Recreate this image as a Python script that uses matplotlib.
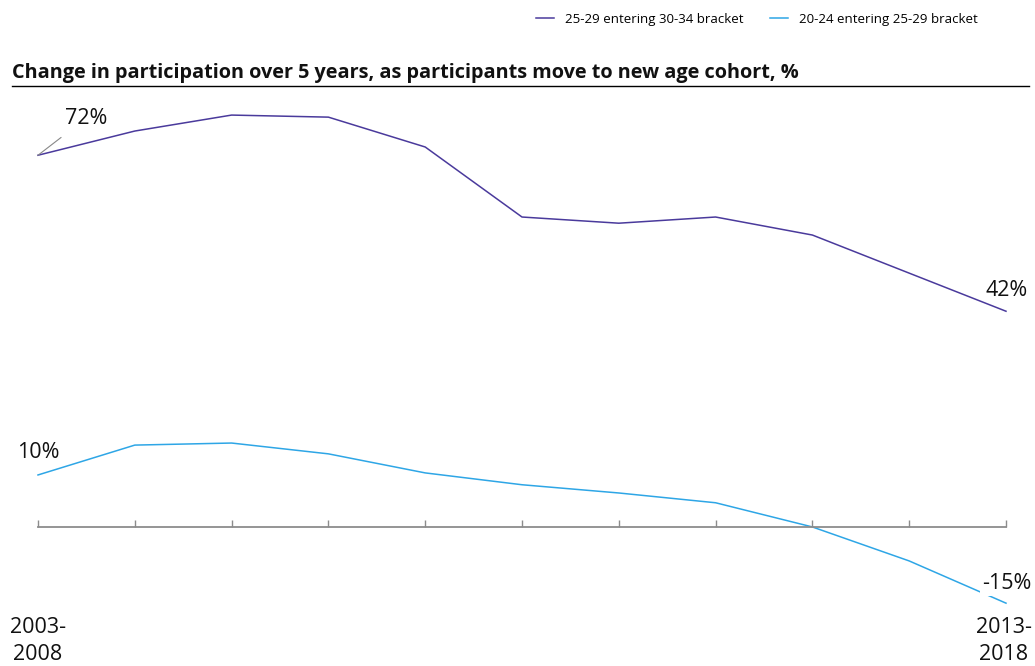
import matplotlib
matplotlib.use("Agg")
import matplotlib.pyplot as plt
from matplotlib.lines import Line2D

periods = ["2003-\n2008", "2004-\n2009", "2005-\n2010", "2006-\n2011", "2007-\n2012", "2008-\n2013",
           "2009-\n2014", "2010-\n2015", "2011-\n2016", "2012-\n2017", "2013-\n2018"]
s1_name = "25-29 entering 30-34 bracket"
s2_name = "20-24 entering 25-29 bracket"
s1 = [72.2, 76.9, 80.0, 79.6, 73.8, 60.2, 59.0, 60.2, 56.7, 49.3, 41.9]
s2 = [10.1, 15.9, 16.3, 14.2, 10.5, 8.2, 6.6, 4.7, 0.0, -6.6, -14.8]
c1 = "#4a3a9c"
c2 = "#2ea6e6"
W, H = 1035, 666
font = "Open Sans"

fig = plt.figure(figsize=(W / 100, H / 100), dpi=100)
ax = fig.add_axes([38 / W, 1 - 615 / H, (1006 - 38) / W, 520 / H])
x = list(range(len(periods)))
ax.plot(x, s1, color=c1, lw=1.1, clip_on=False)
ax.plot(x, s2, color=c2, lw=1.1, clip_on=False)
ax.set_xlim(0, len(periods) - 1)
ax.set_ylim(-17.1, 83.9)
for sp in ["top", "right", "left"]:
    ax.spines[sp].set_visible(False)
ax.spines["bottom"].set_position(("data", 0))
ax.spines["bottom"].set_color("#8c8c8c")
ax.spines["bottom"].set_linewidth(1.3)
ax.set_xticks(x)
ax.set_xticklabels([])
ax.tick_params(axis="x", direction="in", length=5, width=1, color="#8c8c8c")
ax.set_yticks([])

lab = dict(fontsize=15.5, family=font, color="#111111")
ax.annotate("72%", xy=(0, s1[0]), xytext=(48, 37), textcoords="offset pixels",
            ha="center", va="center",
            arrowprops=dict(arrowstyle="-", color="#888888", lw=0.8, shrinkA=7, shrinkB=0), **lab)
ax.annotate("42%", xy=(10, s1[-1]), xytext=(1, 21), textcoords="offset pixels",
            ha="center", va="center", **lab)
ax.annotate("10%", xy=(0, s2[0]), xytext=(0, 22), textcoords="offset pixels",
            ha="center", va="center", **lab)
ax.annotate("-15%", xy=(10, s2[-1]), xytext=(1, 20), textcoords="offset pixels",
            ha="center", va="center",
            bbox=dict(boxstyle="square,pad=0.1", fc="white", ec="none"), **lab)

fig.text(38 / W, 1 - 641 / H, periods[0], ha="center", va="center", linespacing=1.4, **lab)
fig.text(1004 / W, 1 - 641 / H, periods[-1], ha="center", va="center", linespacing=1.4, **lab)

fig.text(12 / W, 1 - 73 / H, "Change in participation over 5 years, as participants move to new age cohort, %",
         ha="left", va="center", fontsize=14.3, fontweight="bold", family=font, color="#111111")
fig.add_artist(Line2D([12 / W, 1029 / W], [1 - 86 / H, 1 - 86 / H], color="black", lw=1,
                      transform=fig.transFigure))

handles = [Line2D([], [], color=c1, lw=1.1), Line2D([], [], color=c2, lw=1.1)]
fig.legend(handles, [s1_name, s2_name], loc="center right", bbox_to_anchor=(984 / W, 1 - 19 / H),
           ncol=2, frameon=False, prop=dict(family=font, size=9.5), handlelength=1.4,
           handletextpad=0.8, columnspacing=2.0, borderpad=0)

fig.savefig("out.png", dpi=100)
